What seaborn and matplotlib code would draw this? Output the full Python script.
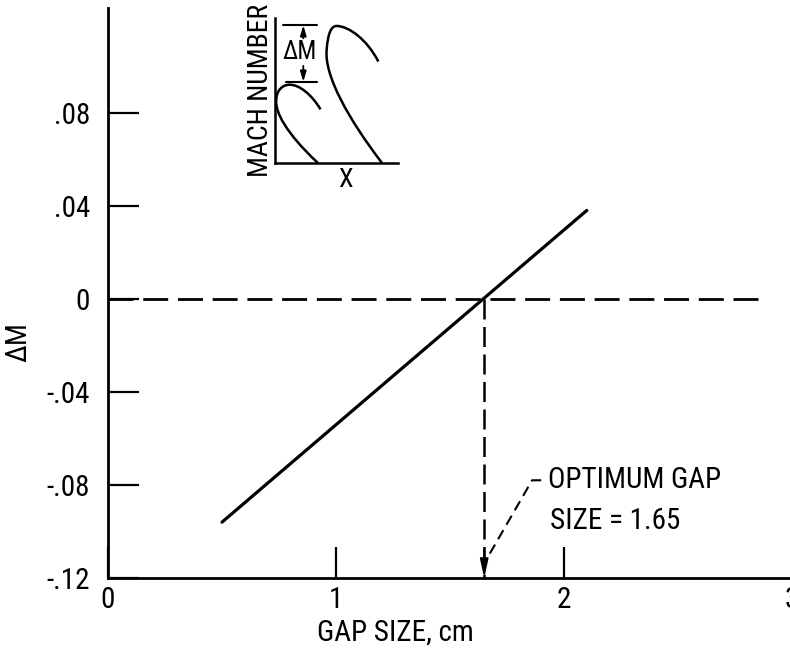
import matplotlib
matplotlib.use("Agg")
import matplotlib.pyplot as plt
from matplotlib import font_manager
from matplotlib.path import Path
from matplotlib.patches import PathPatch
import pandas as pd
import seaborn as sns

# main curve: Mach number difference vs gap size
gap_size = [0.5, 2.1]
delta_m = [-0.096, 0.038]
optimum_gap = 1.65
zero_line_x = [0.0, 2.85]

y_ticks = [-0.12, -0.08, -0.04, 0.0, 0.04, 0.08]
y_tick_labels = ["-.12", "-.08", "-.04", "0", ".04", ".08"]
x_ticks = [0, 1, 2, 3]
x_tick_labels = ["0", "1", "2", "3"]

# leader from the note to the arrow
leader_x = [1.90, 1.86, 1.66]
leader_y = [-0.078, -0.078, -0.112]
note_lines = ["OPTIMUM GAP", "SIZE = 1.65"]

# inset sketch (inset axes units, cubic bezier control points)
small_curve = [(0.35, 0.0), (0.22, 0.10), (0.0, 0.30), (0.01, 0.43),
               (0.01, 0.50), (0.06, 0.54), (0.12, 0.54),
               (0.20, 0.54), (0.30, 0.47), (0.37, 0.37)]
large_curve = [(0.87, 0.0), (0.60, 0.30), (0.40, 0.60), (0.42, 0.78),
               (0.43, 0.90), (0.46, 0.945), (0.50, 0.945),
               (0.60, 0.945), (0.75, 0.85), (0.84, 0.70)]
bracket_top = 0.95
bracket_bottom = 0.56

sns.set_theme(style="ticks")

# look for a narrow sans face, the original lettering is condensed
names = set(f.name for f in font_manager.fontManager.ttflist)
condensed = set(f.name for f in font_manager.fontManager.ttflist
                if "condensed" in str(f.stretch) or "Narrow" in f.name
                or "Condensed" in f.name)
family = ["DejaVu Sans"]
for cand in ["Liberation Sans Narrow", "Roboto Condensed", "Open Sans Condensed",
             "Noto Sans Condensed", "DejaVu Sans Condensed"]:
    if cand in names:
        family = [cand, "DejaVu Sans"]
        break
else:
    if condensed:
        family = [sorted(condensed)[0], "DejaVu Sans"]
        plt.rcParams["font.stretch"] = "condensed"

plt.rcParams["font.family"] = family
plt.rcParams["text.color"] = "black"
fs = 21

fig = plt.figure(figsize=(7.9, 6.51), dpi=100)
ax = fig.add_axes([108 / 790, 73 / 651, 684 / 790, 570 / 651])

df = pd.DataFrame({"gap": gap_size, "dm": delta_m})
sns.lineplot(data=df, x="gap", y="dm", ax=ax, color="black", lw=2.3)

ax.plot(zero_line_x, [0, 0], color="black", lw=2, dashes=(9, 3.5))
ax.plot([optimum_gap, optimum_gap], [0, y_ticks[0]], color="black",
        lw=1.8, dashes=(8, 3))
ax.annotate("", xy=(optimum_gap, y_ticks[0]), xytext=(optimum_gap, -0.108),
            arrowprops=dict(arrowstyle="-|>,head_length=0.9,head_width=0.2",
                            color="black", lw=1.5, shrinkA=0, shrinkB=0))
ax.plot(leader_x, leader_y, color="black", lw=1.5, dashes=(5, 3))
ax.text(1.93, -0.078, note_lines[0], fontsize=fs, va="center", ha="left")
ax.text(1.94, -0.0955, note_lines[1], fontsize=fs, va="center", ha="left")

ax.set_xlim(0, 3)
ax.set_ylim(-0.12, 0.125)
ax.set_xticks(x_ticks, x_tick_labels)
ax.set_yticks(y_ticks, y_tick_labels)
ax.tick_params(axis="y", direction="in", length=22, width=1.6, pad=13,
               labelsize=fs, colors="black")
ax.tick_params(axis="x", direction="in", length=22, width=1.6, pad=6,
               labelsize=fs, colors="black")
sns.despine(ax=ax)
for side in ["left", "bottom"]:
    ax.spines[side].set_linewidth(2)
    ax.spines[side].set_color("black")

ax.set_xlabel("GAP SIZE, cm", fontsize=fs, color="black")
ax.xaxis.set_label_coords(0.42, -0.072)
ax.set_ylabel("ΔM", fontsize=fs, color="black")
ax.yaxis.set_label_coords(-0.11, 0.414)

# inset sketch
ins = fig.add_axes([275 / 790, 488 / 651, 123 / 790, 145 / 651])
ins.set_xlim(0, 1)
ins.set_ylim(0, 1)
ins.set_facecolor("none")
ins.set_xticks([])
ins.set_yticks([])
sns.despine(ax=ins)
for side in ["left", "bottom"]:
    ins.spines[side].set_linewidth(1.8)
    ins.spines[side].set_color("black")

for pts in [small_curve, large_curve]:
    codes = [Path.MOVETO] + [Path.CURVE4] * (len(pts) - 1)
    ins.add_patch(PathPatch(Path(pts, codes), facecolor="none",
                            edgecolor="black", lw=1.8, clip_on=False))

ins.plot([0.065, 0.34], [bracket_top, bracket_top], color="black", lw=1.5,
         clip_on=False)
ins.plot([0.09, 0.34], [bracket_bottom, bracket_bottom], color="black",
         lw=1.5, clip_on=False)
ins.annotate("", xy=(0.23, bracket_top), xytext=(0.23, 0.86),
             arrowprops=dict(arrowstyle="-|>,head_length=0.5,head_width=0.15",
                             color="black", lw=1.3, shrinkA=0, shrinkB=0))
ins.annotate("", xy=(0.23, bracket_bottom), xytext=(0.23, 0.67),
             arrowprops=dict(arrowstyle="-|>,head_length=0.5,head_width=0.15",
                             color="black", lw=1.3, shrinkA=0, shrinkB=0))
ins.text(0.2, 0.765, "ΔM", fontsize=18, ha="center", va="center")
ins.text(-0.12, 0.5, "MACH NUMBER", fontsize=20, rotation=90,
         ha="center", va="center")
ins.text(0.57, -0.12, "X", fontsize=19, ha="center", va="center")

fig.savefig("out.png", dpi=100)
